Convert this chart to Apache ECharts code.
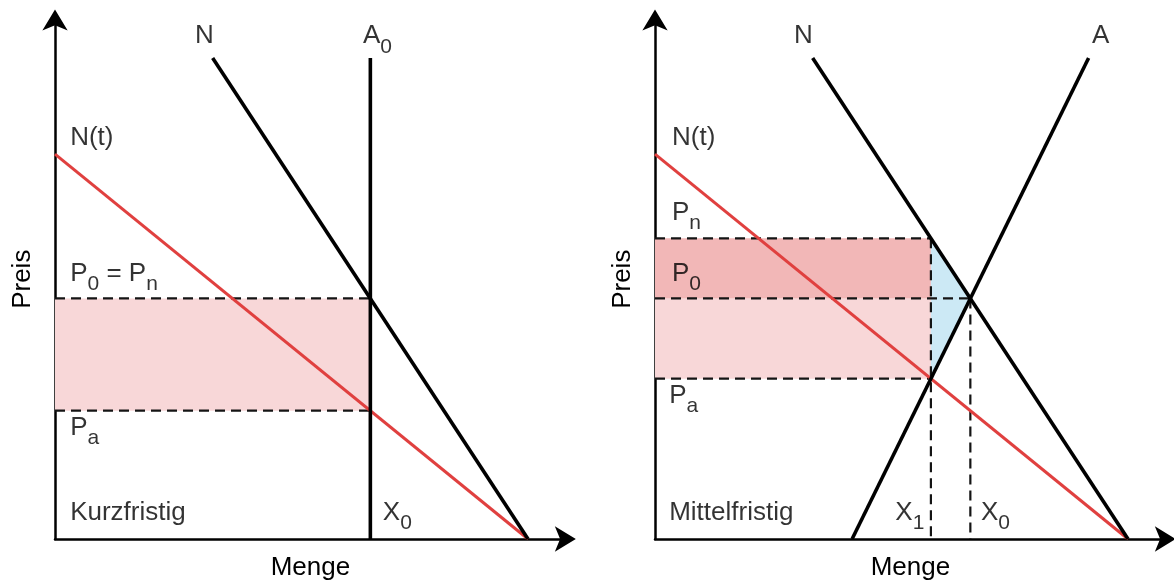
<!DOCTYPE html>
<html><head><meta charset="utf-8">
<script src="https://cdn.jsdelivr.net/npm/echarts@6/dist/echarts.min.js"></script>
<style>html,body{margin:0;padding:0;background:#fff}#c{width:1174px;height:586px}</style>
</head><body><div id="c"></div>
<script>
// ---------- data (abstract units: Menge on x, Preis on y) ----------
const axisMax = 108;
// Left panel: Kurzfristig
const L_demandT = [[0, 80], [100, 0]];        // N(t)
const L_demand  = [[33.33, 100], [100, 0]];   // N
const L_supply  = [[66.67, 100], [66.67, 0]]; // A0 (vertical)
const L_P0 = 50, L_Pa = 26.67, L_X0 = 66.67;
const L_labels = [
  [29.6, 104.5, 'N'], [65.1, 104.5, 'A_0'], [3.2, 83.3, 'N(t)'],
  [3.2, 55.1, 'P_0 = P_n'], [3.2, 23.1, 'P_a'], [3.2, 5.4, 'Kurzfristig'], [69.3, 5.4, 'X_0']
];
// Right panel: Mittelfristig
const R_demandT = [[0, 80], [100, 0]];        // N(t)
const R_demand  = [[33.33, 100], [100, 0]];   // N
const R_supply  = [[41.67, 0], [91.67, 100]]; // A
const R_P0 = 50, R_Pn = 62.5, R_Pa = 33.33, R_X0 = 66.67, R_X1 = 58.33;
const R_labels = [
  [29.4, 104.5, 'N'], [92.4, 104.5, 'A'], [3.6, 83.3, 'N(t)'],
  [3.6, 67.9, 'P_n'], [3.6, 55.2, 'P_0'], [3.0, 29.8, 'P_a'],
  [3.0, 5.4, 'Mittelfristig'], [50.8, 5.4, 'X_1'], [68.9, 5.4, 'X_0']
];
const axisNames = { x: 'Menge', y: 'Preis' };

// ---------- styles ----------
const FONT = '"Liberation Sans", Arial, Helvetica, sans-serif';
const RED = '#e0403f', BLACK = '#000', DASH = '#141414';
const PINK = '#f8d7d8', PINK_DARK = '#f2b7b7', BLUE = '#cce9f5';

function rich(s) {
  let out = '', buf = '';
  for (let i = 0; i < s.length; i++) {
    if (s[i] === '_') { if (buf) { out += '{m|' + buf + '}'; buf = ''; } out += '{s|' + s[i + 1] + '}'; i++; }
    else buf += s[i];
  }
  if (buf) out += '{m|' + buf + '}';
  return out;
}
function lineS(idx, pts, color, width, dashed, z) {
  return { type: 'line', xAxisIndex: idx, yAxisIndex: idx, data: pts, symbol: 'none', silent: true,
    clip: false, z: z, animation: false,
    lineStyle: { color: color, width: width, type: dashed ? [10, 6] : 'solid', cap: 'butt' } };
}
function polyS(idx, polys) {
  return { type: 'custom', xAxisIndex: idx, yAxisIndex: idx, silent: true, clip: false, z: 1, animation: false,
    data: polys.map((p, i) => [i]),
    renderItem: (params, api) => {
      const p = polys[params.dataIndex];
      return { type: 'polygon', shape: { points: p.pts.map(q => api.coord(q)) }, style: { fill: p.color } };
    } };
}
function labelS(idx, labels) {
  return { type: 'scatter', xAxisIndex: idx, yAxisIndex: idx, symbolSize: 0, silent: true, z: 10, animation: false,
    data: labels.map(l => ({ value: [l[0], l[1]], label: { formatter: rich(l[2]) } })),
    label: { show: true, position: 'right', distance: 0, color: '#000', fontFamily: FONT,
      rich: { m: { fontSize: 26, lineHeight: 42, color: '#000', fontFamily: FONT },
              s: { fontSize: 21, lineHeight: 21, verticalAlign: 'bottom', color: '#000', fontFamily: FONT } } },
    labelLayout: { hideOverlap: false } };
}
const rect = (x0, x1, y0, y1, color) => ({ pts: [[x0, y0], [x1, y0], [x1, y1], [x0, y1]], color });

const axisCommon = {
  type: 'value', min: 0, max: axisMax, nameLocation: 'middle',
  nameTextStyle: { fontSize: 26, color: '#000', fontFamily: FONT },
  axisLine: { show: true, onZero: false, symbol: ['none', 'arrow'], symbolSize: [19, 21], symbolOffset: [0, 10],
    lineStyle: { color: BLACK, width: 2.5 } },
  axisTick: { show: false }, axisLabel: { show: false }, splitLine: { show: false }
};
const gridW = axisMax * 4.73, gridH = axisMax * 4.82;

const series = [
  // left
  polyS(0, [rect(0, L_X0, L_Pa, L_P0, PINK)]),
  lineS(0, [[0, L_P0], [L_X0, L_P0]], DASH, 2.2, true, 3),
  lineS(0, [[0, L_Pa], [L_X0, L_Pa]], DASH, 2.2, true, 3),
  lineS(0, L_demandT, RED, 3, false, 4),
  lineS(0, L_demand, BLACK, 3.6, false, 5),
  lineS(0, L_supply, BLACK, 3.6, false, 5),
  labelS(0, L_labels),
  // right
  polyS(1, [rect(0, R_X1, R_Pa, R_P0, PINK), rect(0, R_X1, R_P0, R_Pn, PINK_DARK),
            { pts: [[R_X1, R_Pn], [R_X0, R_P0], [R_X1, R_Pa]], color: BLUE }]),
  lineS(1, [[0, R_Pn], [R_X1, R_Pn]], DASH, 2.2, true, 3),
  lineS(1, [[0, R_P0], [R_X0, R_P0]], DASH, 2.2, true, 3),
  lineS(1, [[0, R_Pa], [R_X1, R_Pa]], DASH, 2.2, true, 3),
  lineS(1, [[R_X1, R_Pn], [R_X1, 0]], DASH, 2.2, true, 3),
  lineS(1, [[R_X0, R_P0], [R_X0, 0]], DASH, 2.2, true, 3),
  lineS(1, R_demandT, RED, 3, false, 4),
  lineS(1, R_demand, BLACK, 3.6, false, 5),
  lineS(1, R_supply, BLACK, 3.6, false, 5),
  labelS(1, R_labels)
];

const chart = echarts.init(document.getElementById('c'), null, { renderer: 'canvas' });
chart.setOption({
  backgroundColor: '#fff', animation: false,
  textStyle: { fontFamily: FONT },
  grid: [
    { left: 55, top: 540 - gridH, width: gridW, height: gridH },
    { left: 655, top: 540 - gridH, width: gridW, height: gridH }
  ],
  xAxis: [0, 1].map(i => Object.assign({}, axisCommon, { gridIndex: i, name: axisNames.x, nameGap: 16 })),
  yAxis: [0, 1].map(i => Object.assign({}, axisCommon, { gridIndex: i, name: axisNames.y, nameGap: 19, nameRotate: 90 })),
  series: series
});
</script></body></html>
